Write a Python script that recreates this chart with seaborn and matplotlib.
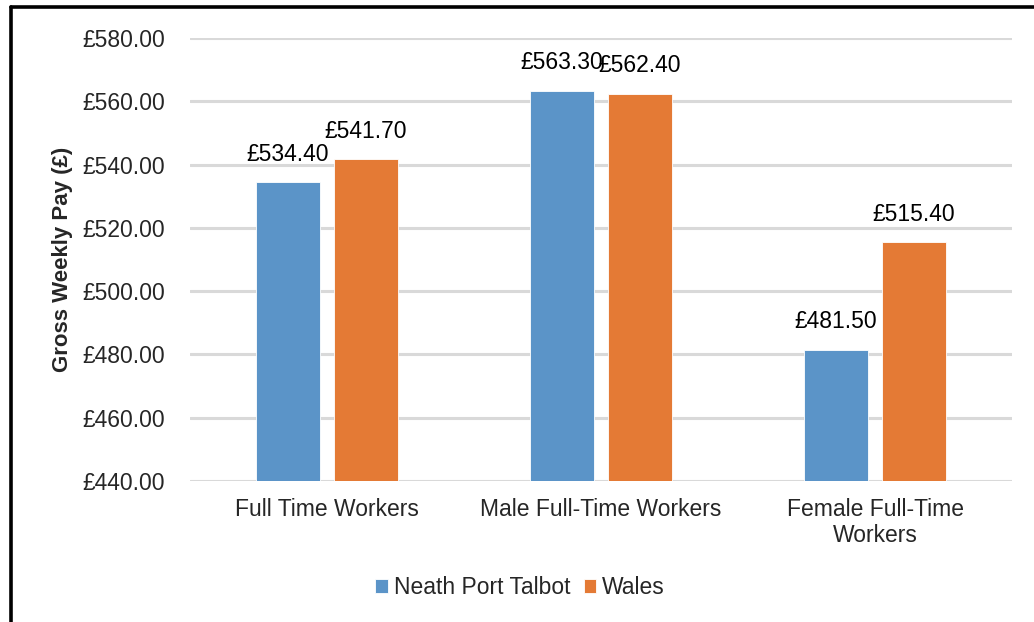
import matplotlib
matplotlib.use("Agg")
import matplotlib.pyplot as plt
from matplotlib.ticker import FuncFormatter, MultipleLocator
from matplotlib.lines import Line2D
import seaborn as sns
import pandas as pd

# values
categories = ["Full Time Workers", "Male Full-Time Workers", "Female Full-Time\nWorkers"]
neath_port_talbot = [534.4, 563.3, 481.5]
wales = [541.7, 562.4, 515.4]
areas = ["Neath Port Talbot", "Wales"]
colours = ["#5b94c8", "#e47a35"]

df = pd.DataFrame({
    "Category": categories * 2,
    "Pay": neath_port_talbot + wales,
    "Area": [areas[0]] * 3 + [areas[1]] * 3,
})

sns.set_style("white")
plt.rcParams["font.family"] = ["Liberation Sans", "DejaVu Sans"]

fig = plt.figure(figsize=(10.34, 6.22), dpi=100)
ax = fig.add_axes([0.1838, 0.2267, 0.795, 0.7122])

sns.barplot(data=df, x="Category", y="Pay", hue="Area", palette=colours,
            saturation=1, width=0.57, gap=0.19, edgecolor="white",
            linewidth=0.6, ax=ax)

for c in ax.containers:
    ax.bar_label(c, labels=["£{:.2f}".format(v) for v in c.datavalues],
                 padding=12, fontsize=16.5, color="black")

ax.set_ylim(440, 580)
ax.yaxis.set_major_locator(MultipleLocator(20))
ax.yaxis.set_major_formatter(FuncFormatter(lambda v, p: "£{:.2f}".format(v)))
ax.grid(axis="y", color="#d9d9d9", linewidth=2.2, zorder=0)
ax.set_axisbelow(True)
for s in ax.spines.values():
    s.set_visible(False)
ax.tick_params(axis="y", length=0, pad=18, labelsize=16.5)
ax.tick_params(axis="x", length=0, pad=12, labelsize=16.5)
ax.set_xlabel("")
ax.set_ylabel("Gross Weekly Pay (£)", fontsize=16, fontweight="bold", labelpad=7)

handles, labels = ax.get_legend_handles_labels()
ax.legend_.remove()
fig.legend(handles, labels, loc="center", bbox_to_anchor=(0.503, 0.055), ncol=2,
           frameon=False, fontsize=16.5, handlelength=0.55, handleheight=0.55,
           handletextpad=0.25, columnspacing=0.6)

# black frame around the chart (left and top edges visible)
fig.add_artist(Line2D([11 / 1034, 11 / 1034], [0, 1 - 7 / 622], color="black",
                      linewidth=2.6, transform=fig.transFigure))
fig.add_artist(Line2D([11 / 1034, 1], [1 - 7 / 622, 1 - 7 / 622], color="black",
                      linewidth=2.6, transform=fig.transFigure))

fig.savefig("out.png", dpi=100)
